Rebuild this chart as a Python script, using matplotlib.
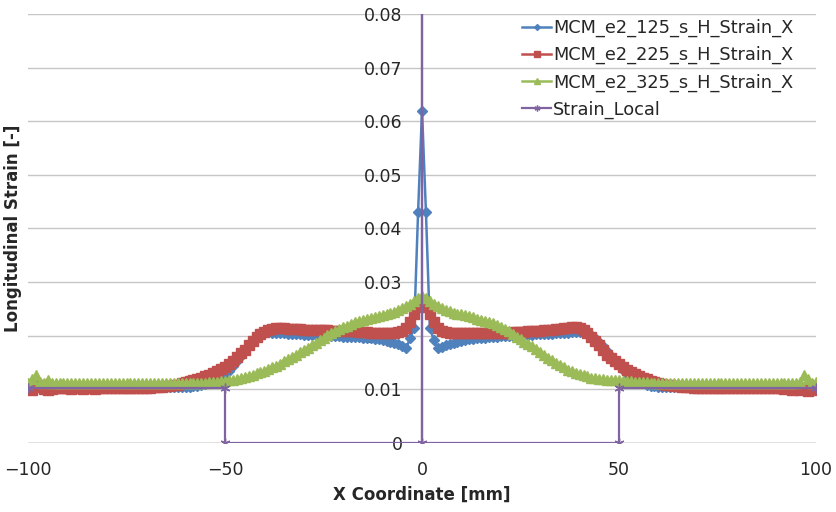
import matplotlib
matplotlib.use('Agg')
import matplotlib.pyplot as plt
from matplotlib.ticker import FuncFormatter

# X coordinate of every sampled node [mm], 1 mm apart
x_mm = list(range(-100, 101))

# Longitudinal strain per node, one list per run
strain_125 = [
    0.0108, 0.0104, 0.0106, 0.0105, 0.0103, 0.0104, 0.0105, 0.0104, 0.0105, 0.0105,
    0.0105, 0.0105, 0.0105, 0.0105, 0.0105, 0.0105, 0.0105, 0.0105, 0.0105, 0.0105,
    0.0105, 0.0105, 0.0105, 0.0105, 0.0105, 0.0105, 0.0105, 0.0105, 0.0105, 0.0105,
    0.0105, 0.0105, 0.0105, 0.0105, 0.0105, 0.0105, 0.0105, 0.0105, 0.0105, 0.0105,
    0.0105, 0.0105, 0.0106, 0.0107, 0.0108, 0.0110, 0.0112, 0.0115, 0.0118, 0.0123,
    0.0128, 0.0135, 0.0143, 0.0152, 0.0162, 0.0172, 0.0183, 0.0192, 0.0199, 0.0203,
    0.0206, 0.0207, 0.0206, 0.0206, 0.0205, 0.0205, 0.0204, 0.0204, 0.0203, 0.0203,
    0.0202, 0.0202, 0.0202, 0.0201, 0.0201, 0.0200, 0.0200, 0.0200, 0.0199, 0.0199,
    0.0198, 0.0198, 0.0198, 0.0197, 0.0197, 0.0196, 0.0196, 0.0195, 0.0194, 0.0193,
    0.0192, 0.0191, 0.0189, 0.0187, 0.0184, 0.0180, 0.0177, 0.0196, 0.0214, 0.0430,
    0.0620, 0.0430, 0.0214, 0.0192, 0.0177, 0.0179, 0.0182, 0.0185, 0.0187, 0.0189,
    0.0191, 0.0192, 0.0193, 0.0194, 0.0195, 0.0196, 0.0196, 0.0197, 0.0198, 0.0198,
    0.0199, 0.0199, 0.0200, 0.0200, 0.0200, 0.0201, 0.0201, 0.0202, 0.0202, 0.0203,
    0.0203, 0.0203, 0.0204, 0.0204, 0.0205, 0.0205, 0.0206, 0.0206, 0.0207, 0.0207,
    0.0207, 0.0206, 0.0205, 0.0201, 0.0196, 0.0189, 0.0181, 0.0172, 0.0163, 0.0154,
    0.0145, 0.0136, 0.0128, 0.0122, 0.0117, 0.0113, 0.0111, 0.0109, 0.0107, 0.0106,
    0.0105, 0.0105, 0.0105, 0.0105, 0.0105, 0.0105, 0.0105, 0.0105, 0.0105, 0.0105,
    0.0105, 0.0105, 0.0105, 0.0105, 0.0105, 0.0105, 0.0105, 0.0105, 0.0105, 0.0105,
    0.0105, 0.0105, 0.0105, 0.0105, 0.0105, 0.0105, 0.0105, 0.0105, 0.0105, 0.0105,
    0.0105, 0.0105, 0.0104, 0.0105, 0.0104, 0.0106, 0.0104, 0.0105, 0.0103, 0.0106,
    0.0103,
]

strain_225 = [
    0.0110, 0.0099, 0.0104, 0.0108, 0.0100, 0.0098, 0.0101, 0.0102, 0.0103, 0.0102,
    0.0102, 0.0101, 0.0102, 0.0102, 0.0101, 0.0102, 0.0102, 0.0101, 0.0102, 0.0102,
    0.0102, 0.0102, 0.0102, 0.0102, 0.0102, 0.0102, 0.0102, 0.0102, 0.0102, 0.0102,
    0.0103, 0.0103, 0.0104, 0.0104, 0.0105, 0.0106, 0.0107, 0.0108, 0.0109, 0.0111,
    0.0113, 0.0115, 0.0117, 0.0119, 0.0122, 0.0124, 0.0127, 0.0130, 0.0134, 0.0138,
    0.0142, 0.0147, 0.0153, 0.0160, 0.0167, 0.0174, 0.0182, 0.0190, 0.0197, 0.0203,
    0.0207, 0.0211, 0.0213, 0.0214, 0.0214, 0.0214, 0.0213, 0.0213, 0.0212, 0.0212,
    0.0211, 0.0211, 0.0211, 0.0210, 0.0210, 0.0210, 0.0210, 0.0209, 0.0209, 0.0209,
    0.0209, 0.0208, 0.0208, 0.0208, 0.0207, 0.0207, 0.0207, 0.0206, 0.0206, 0.0206,
    0.0206, 0.0206, 0.0206, 0.0206, 0.0207, 0.0208, 0.0215, 0.0226, 0.0240, 0.0253,
    0.0263, 0.0253, 0.0240, 0.0226, 0.0215, 0.0209, 0.0207, 0.0206, 0.0205, 0.0205,
    0.0205, 0.0205, 0.0205, 0.0205, 0.0205, 0.0205, 0.0205, 0.0205, 0.0206, 0.0206,
    0.0206, 0.0206, 0.0206, 0.0207, 0.0207, 0.0207, 0.0207, 0.0208, 0.0208, 0.0209,
    0.0209, 0.0210, 0.0211, 0.0211, 0.0212, 0.0213, 0.0214, 0.0215, 0.0216, 0.0216,
    0.0214, 0.0210, 0.0205, 0.0198, 0.0190, 0.0182, 0.0173, 0.0165, 0.0158, 0.0152,
    0.0147, 0.0142, 0.0137, 0.0133, 0.0129, 0.0125, 0.0122, 0.0119, 0.0116, 0.0114,
    0.0112, 0.0110, 0.0109, 0.0108, 0.0107, 0.0106, 0.0105, 0.0104, 0.0104, 0.0103,
    0.0103, 0.0103, 0.0102, 0.0102, 0.0102, 0.0102, 0.0102, 0.0102, 0.0102, 0.0102,
    0.0102, 0.0102, 0.0102, 0.0102, 0.0102, 0.0102, 0.0102, 0.0102, 0.0102, 0.0102,
    0.0102, 0.0102, 0.0101, 0.0103, 0.0099, 0.0102, 0.0098, 0.0103, 0.0097, 0.0102,
    0.0099,
]

strain_325 = [
    0.0112, 0.0119, 0.0126, 0.0114, 0.0111, 0.0117, 0.0112, 0.0111, 0.0112, 0.0112,
    0.0112, 0.0112, 0.0112, 0.0112, 0.0112, 0.0112, 0.0112, 0.0112, 0.0112, 0.0112,
    0.0112, 0.0112, 0.0112, 0.0112, 0.0112, 0.0112, 0.0112, 0.0112, 0.0112, 0.0112,
    0.0112, 0.0112, 0.0112, 0.0112, 0.0112, 0.0112, 0.0112, 0.0112, 0.0112, 0.0112,
    0.0112, 0.0112, 0.0112, 0.0112, 0.0112, 0.0112, 0.0113, 0.0113, 0.0114, 0.0115,
    0.0116, 0.0117, 0.0118, 0.0119, 0.0121, 0.0123, 0.0125, 0.0127, 0.0130, 0.0132,
    0.0135, 0.0138, 0.0141, 0.0144, 0.0148, 0.0152, 0.0156, 0.0160, 0.0165, 0.0169,
    0.0174, 0.0178, 0.0183, 0.0187, 0.0192, 0.0196, 0.0201, 0.0205, 0.0209, 0.0212,
    0.0216, 0.0219, 0.0222, 0.0225, 0.0227, 0.0229, 0.0231, 0.0233, 0.0235, 0.0237,
    0.0239, 0.0241, 0.0243, 0.0245, 0.0248, 0.0251, 0.0255, 0.0259, 0.0264, 0.0270,
    0.0275, 0.0270, 0.0265, 0.0260, 0.0256, 0.0252, 0.0248, 0.0246, 0.0243, 0.0241,
    0.0240, 0.0238, 0.0236, 0.0234, 0.0232, 0.0230, 0.0228, 0.0226, 0.0223, 0.0220,
    0.0216, 0.0212, 0.0208, 0.0203, 0.0198, 0.0194, 0.0189, 0.0185, 0.0180, 0.0175,
    0.0170, 0.0164, 0.0158, 0.0154, 0.0149, 0.0145, 0.0141, 0.0137, 0.0134, 0.0131,
    0.0128, 0.0126, 0.0124, 0.0122, 0.0121, 0.0120, 0.0119, 0.0118, 0.0118, 0.0117,
    0.0117, 0.0116, 0.0115, 0.0115, 0.0114, 0.0114, 0.0113, 0.0113, 0.0112, 0.0112,
    0.0112, 0.0112, 0.0112, 0.0112, 0.0112, 0.0112, 0.0112, 0.0112, 0.0112, 0.0112,
    0.0112, 0.0112, 0.0112, 0.0112, 0.0112, 0.0112, 0.0112, 0.0112, 0.0112, 0.0112,
    0.0112, 0.0112, 0.0112, 0.0112, 0.0112, 0.0112, 0.0112, 0.0112, 0.0112, 0.0112,
    0.0112, 0.0112, 0.0112, 0.0112, 0.0112, 0.0112, 0.0114, 0.0126, 0.0120, 0.0111,
    0.0113,
]

# Local strain definition (step profile with the spike at the centre)
local_x = [-100, -50, -50, 0, 0, 0, 50, 50, 100]
local_strain = [0.0103, 0.0103, 0, 0, 0.08, 0, 0, 0.0103, 0.0103]

series_names = ['MCM_e2_125_s_H_Strain_X', 'MCM_e2_225_s_H_Strain_X',
                'MCM_e2_325_s_H_Strain_X', 'Strain_Local']

x_ticks = [-100, -50, 0, 50, 100]
y_ticks = [0, 0.01, 0.02, 0.03, 0.04, 0.05, 0.06, 0.07, 0.08]

TEXT = '#262626'
GRID = '#c6c6c6'

fig = plt.figure(figsize=(8.36, 5.12), dpi=100)
ax = fig.add_axes([0.0335, 0.1348, 0.9426, 0.8379])

ax.plot(x_mm, strain_125, color='#4f81bd', lw=1.8, marker='D', ms=5,
        mec='#4f81bd', label=series_names[0], zorder=3)
ax.plot(x_mm, strain_225, color='#c0504d', lw=1.8, marker='s', ms=6.5,
        mec='#c0504d', label=series_names[1], zorder=4)
ax.plot(x_mm, strain_325, color='#9bbb59', lw=1.8, marker='^', ms=7,
        mec='#9bbb59', label=series_names[2], zorder=5)
ax.plot(local_x, local_strain, color='#8064a2', lw=1.6, marker=(6, 2, 0), ms=7,
        mew=1.0, markevery=[0, 1, 2, 3, 6, 7, 8], label=series_names[3], zorder=6)

ax.set_xlim(-100, 100)
ax.set_ylim(0, 0.08)
ax.set_xticks(x_ticks)
ax.set_yticks(y_ticks)
ax.yaxis.set_major_formatter(FuncFormatter(lambda v, p: '0' if v == 0 else f'{v:.2f}'))

# horizontal gridlines only, value axis crosses at x = 0
ax.grid(axis='y', color=GRID, lw=1.0, zorder=0)
ax.set_axisbelow(True)
for side in ['top', 'right', 'bottom']:
    ax.spines[side].set_visible(False)
ax.spines['left'].set_position(('data', 0))
ax.spines['left'].set_visible(False)
ax.axhline(0, color='#a0a0a0', lw=1.0, zorder=1)

ax.tick_params(axis='both', length=0, labelsize=12.5, labelcolor=TEXT)
ax.tick_params(axis='y', pad=14)
ax.tick_params(axis='x', pad=13)

ax.set_xlabel('X Coordinate [mm]', fontsize=12, fontweight='bold', color=TEXT, labelpad=5)
ax.set_ylabel('Longitudinal Strain [-]', fontsize=12, fontweight='bold', color=TEXT)
ax.yaxis.set_label_coords(-0.008, 0.5)

ax.legend(loc='upper left', bbox_to_anchor=(522 / 836, 1 - 19 / 512),
          bbox_transform=fig.transFigure, frameon=False, fontsize=12.8,
          handlelength=1.65, handletextpad=0.1, labelspacing=0.5, borderpad=0,
          borderaxespad=0, markerscale=0.6, labelcolor=TEXT)

fig.savefig('out.png', dpi=100)
